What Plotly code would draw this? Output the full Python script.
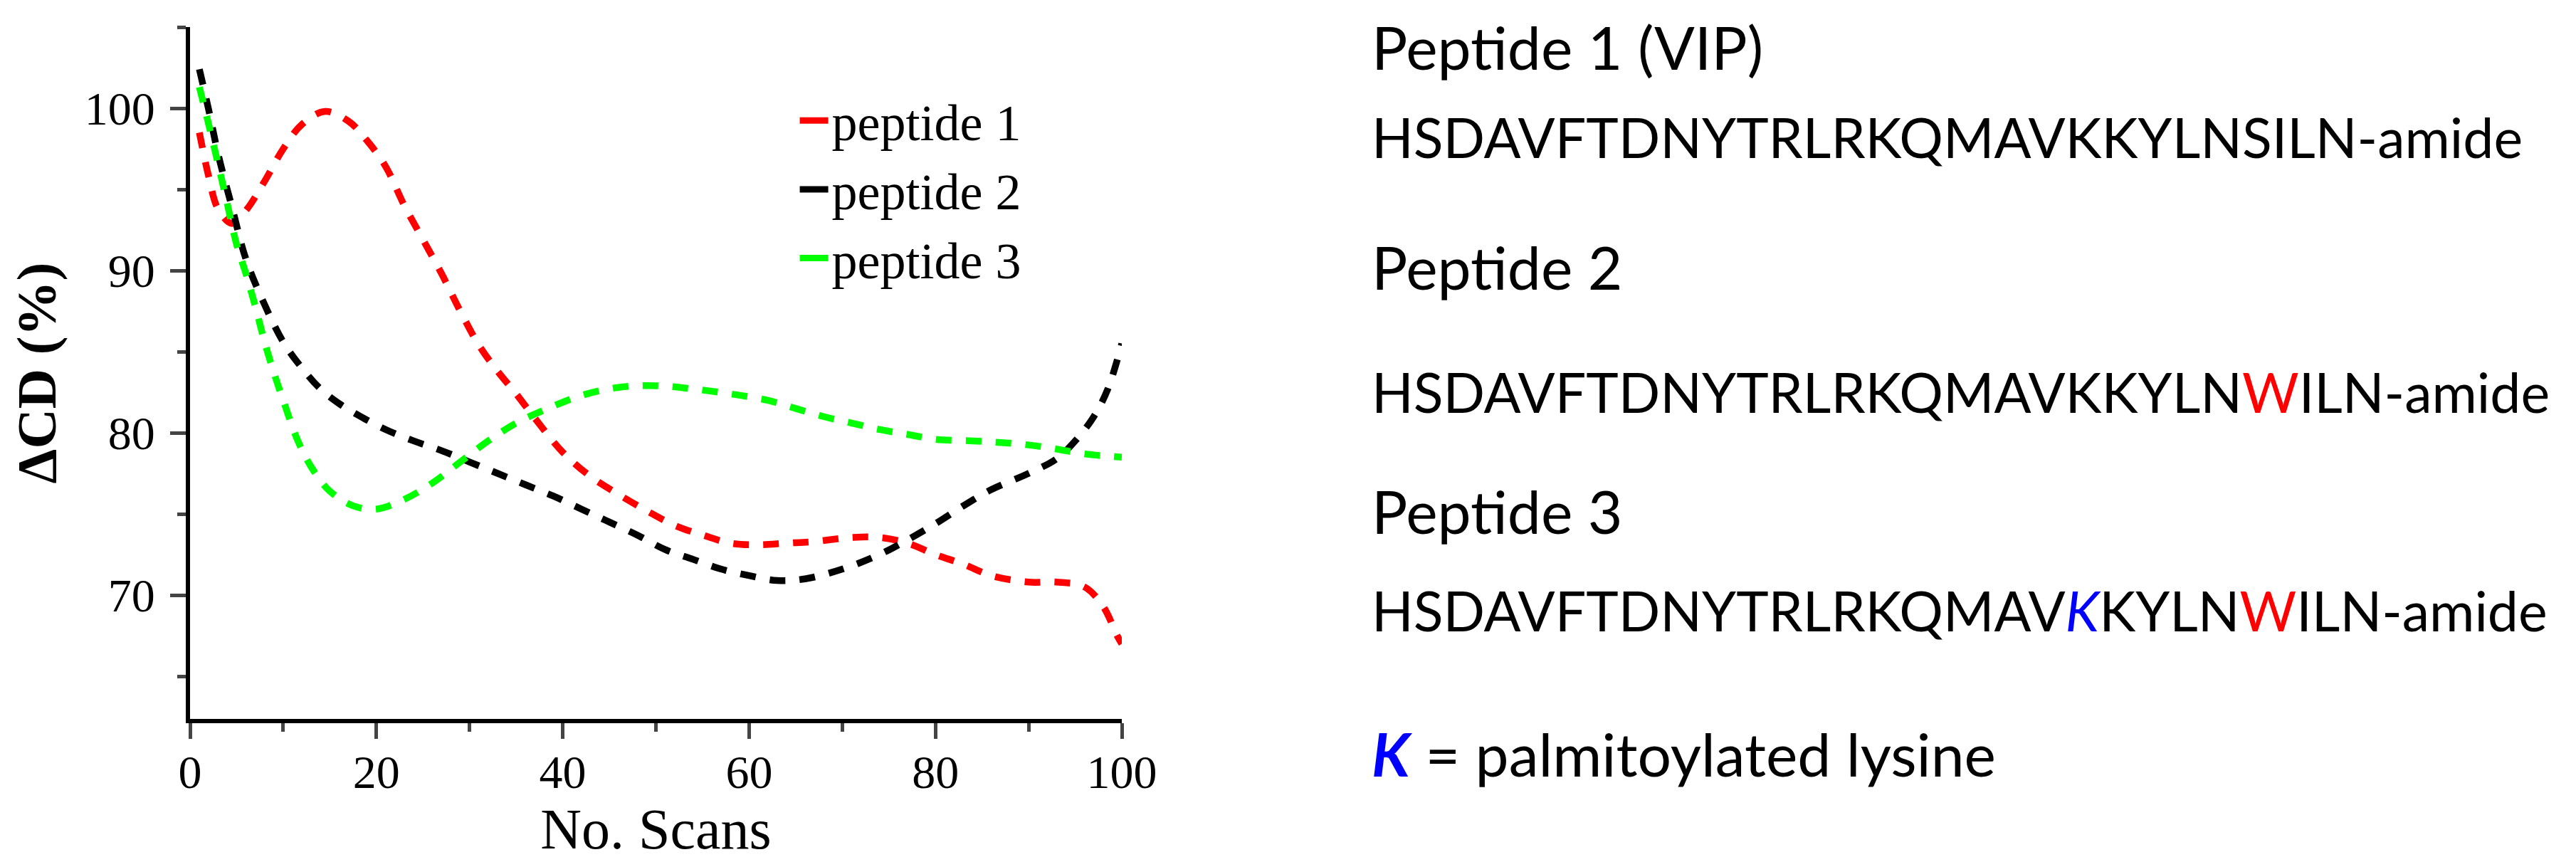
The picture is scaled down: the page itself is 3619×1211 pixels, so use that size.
import plotly.graph_objects as go

# --- данные ---
scans_p1 = [1, 2, 3, 4.5, 6, 8, 10, 12, 14.5, 17, 19, 21, 23, 25, 27, 29, 31, 33, 35, 37,
            40, 43, 46, 49, 52, 55, 58, 61, 64, 67, 71, 74, 77, 80, 83, 86, 90, 93, 96, 98, 99.5, 100]
cd_p1 = [98.5, 95.8, 93.8, 92.9, 93.7, 95.5, 97.5, 99.0, 99.8, 99.2, 98.0, 96.4, 94.0, 91.9, 89.8,
         87.5, 85.4, 83.8, 82.4, 80.9, 78.8, 77.3, 76.2, 75.2, 74.3, 73.7, 73.2, 73.1, 73.2, 73.3,
         73.55, 73.55, 73.2, 72.5, 71.9, 71.2, 70.8, 70.8, 70.5, 69.3, 67.5, 67.0]

scans_p2 = [1, 2, 3, 4.5, 6, 8, 10, 12, 14, 16, 18, 21, 24, 27, 30, 33, 36, 39, 42, 45, 48,
            51, 54, 57, 60, 63, 66, 70, 74, 77, 80, 83, 86, 90, 93, 95, 97, 98.5, 100]
cd_p2 = [102.4, 99.9, 97.2, 93.9, 90.7, 87.9, 85.6, 84.0, 82.7, 81.8, 81.1, 80.2, 79.5, 78.9,
         78.2, 77.5, 76.8, 76.1, 75.3, 74.5, 73.7, 72.8, 72.2, 71.6, 71.2, 70.9, 71.0, 71.6,
         72.5, 73.4, 74.4, 75.5, 76.5, 77.5, 78.4, 79.5, 81.0, 82.7, 85.5]

scans_p3 = [1, 2, 3, 4, 5, 6, 7, 8, 9, 10, 11.5, 13, 15, 17.5, 20, 23, 26, 29, 32, 35, 38, 42,
            46, 50, 54, 58, 62, 65, 68, 71, 74, 77, 80, 84, 87, 90, 93, 96, 100]
cd_p3 = [101.3, 99.0, 96.6, 94.1, 91.6, 89.8, 87.8, 85.6, 83.7, 82.0, 79.6, 77.9, 76.4, 75.5,
         75.3, 75.9, 76.9, 78.2, 79.5, 80.6, 81.4, 82.3, 82.8, 82.9, 82.7, 82.4, 82.0, 81.5,
         81.0, 80.6, 80.2, 79.9, 79.6, 79.5, 79.4, 79.25, 79.0, 78.7, 78.5]

names = ['peptide 1', 'peptide 2', 'peptide 3']
colors = ['#ff0000', '#000000', '#00ff00']

x_ticks = [0, 20, 40, 60, 80, 100]
y_ticks = [70, 80, 90, 100]

# тексты справа
seq_titles = ['Peptide 1 (VIP)', 'Peptide 2', 'Peptide 3']
seq_lines = [
    'HSDAVFTDNYTRLRKQMAVKKYLNSILN-amide',
    'HSDAVFTDNYTRLRKQMAVKKYLN<span style="color:#ff0000">W</span>ILN-amide',
    'HSDAVFTDNYTRLRKQMAV<span style="color:#0000ff"><i>K</i></span>KYLN'
    '<span style="color:#ff0000">W</span>ILN-amide',
]
note = '<span style="color:#0000ff"><b><i>K</i></b></span> = palmitoylated lysine'

W, H = 3619, 1211
L, R, T, B = 243, 1568, 30, 1002  # область графика в пикселях


def px(x):
    return (x - L) / (R - L)


def py(y):
    return (B - y) / (B - T)


fig = go.Figure()
for xs, ys, name, c in zip([scans_p1, scans_p2, scans_p3], [cd_p1, cd_p2, cd_p3], names, colors):
    fig.add_trace(go.Scatter(x=xs, y=ys, mode='lines',
                             line=dict(color=c, width=9.5, dash='22px,20px', shape='spline', smoothing=1.0),
                             showlegend=False, hoverinfo='skip'))
    # сплошная линия только для легенды
    fig.add_trace(go.Scatter(x=[None], y=[None], mode='lines', name=name,
                             line=dict(color=c, width=9)))

serif = 'Liberation Serif, Times New Roman, serif'
sans = 'Lato, sans-serif'

fig.update_xaxes(range=[0, 100], tickvals=x_ticks, ticks='outside', ticklen=22, tickwidth=5,
                 showline=True, linewidth=6, linecolor='black', showgrid=False, zeroline=False,
                 tickfont=dict(family=serif, size=66, color='black'), ticklabelstandoff=-10,
                 minor=dict(dtick=10, ticks='outside', ticklen=12, tickwidth=5, showgrid=False),
                 title=dict(text='No. Scans', font=dict(family=serif, size=80, color='black'), standoff=14))
fig.update_yaxes(range=[62.37, 105], tickvals=y_ticks, ticks='outside', ticklen=22, tickwidth=5,
                 showline=True, linewidth=6, linecolor='black', showgrid=False, zeroline=False,
                 tickfont=dict(family=serif, size=66, color='black'), ticklabelstandoff=8,
                 minor=dict(tick0=65, dtick=5, ticks='outside', ticklen=12, tickwidth=5, showgrid=False),
                 title=dict(text='<b>ΔCD (%)</b>', font=dict(family=serif, size=78, color='black'), standoff=44))

annotations = []
title_y = [58, 366, 709]
line_y = [184, 542, 849]
for t, ty in zip(seq_titles, title_y):
    annotations.append(dict(text=t, x=px(1921), y=py(ty), xref='paper', yref='paper',
                            xanchor='left', yanchor='middle', showarrow=False,
                            font=dict(family=sans, size=84, color='black')))
for s, sy in zip(seq_lines, line_y):
    annotations.append(dict(text=s, x=px(1921), y=py(sy), xref='paper', yref='paper',
                            xanchor='left', yanchor='middle', showarrow=False,
                            font=dict(family=sans, size=77, color='black')))
annotations.append(dict(text=note, x=px(1921), y=py(1050), xref='paper', yref='paper',
                        xanchor='left', yanchor='middle', showarrow=False,
                        font=dict(family=sans, size=84, color='black')))

fig.update_layout(width=W, height=H, margin=dict(l=L, r=W - R, t=T, b=H - B),
                  plot_bgcolor='white', paper_bgcolor='white',
                  legend=dict(x=px(1105), y=py(108), xanchor='left', yanchor='top',
                              font=dict(family=serif, size=72, color='black'),
                              bgcolor='rgba(0,0,0,0)', itemwidth=40, tracegroupgap=0),
                  annotations=annotations)

fig.write_html('out.html')
